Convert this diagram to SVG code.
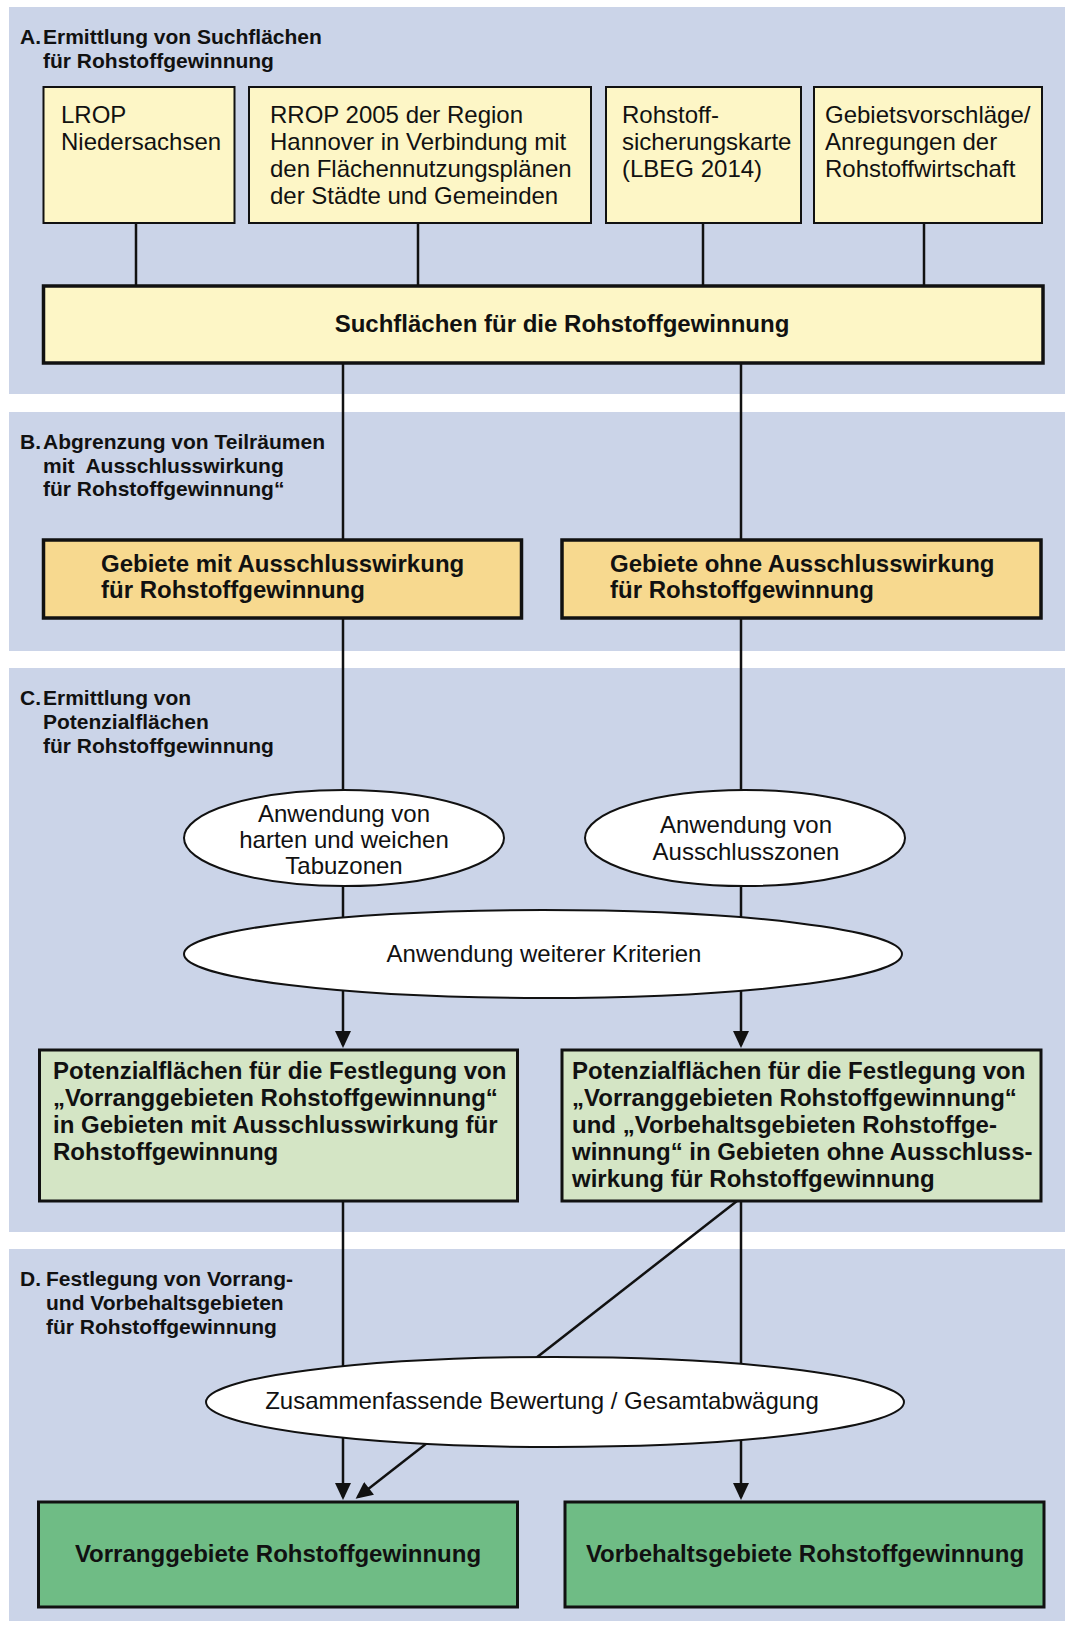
<svg xmlns="http://www.w3.org/2000/svg" width="1065" height="1625" viewBox="0 0 1065 1625">
<defs>
<style>
.panel{fill:#cbd4e8}
.t{font-family:"Liberation Sans",Arial,Helvetica,sans-serif;fill:#111}
.h{font-size:21px;font-weight:bold}
.r{font-size:24px}
.b{font-size:24px;font-weight:bold}
.src{fill:#fdf6c6;stroke:#111;stroke-width:2}
.main{fill:#fdf6c6;stroke:#111;stroke-width:3.5}
.sub{fill:#f7d98f;stroke:#111;stroke-width:3.5}
.pot{fill:#d4e5c5;stroke:#111;stroke-width:3}
.res{fill:#6fbc85;stroke:#111;stroke-width:3}
.ell{fill:#fff;stroke:#111;stroke-width:2}
.c{stroke:#111;stroke-width:2.5;fill:none}
</style>
<marker id="arr" markerUnits="userSpaceOnUse" markerWidth="18" markerHeight="16" viewBox="0 0 17 16" refX="14" refY="8" orient="auto">
<path d="M0,0 L17,8 L0,16 z" fill="#111"/>
</marker>
</defs>

<rect width="1065" height="1625" fill="#fff"/>

<!-- stage panels -->
<g id="panels">
<rect class="panel" x="9" y="7" width="1056" height="387"/>
<rect class="panel" x="9" y="412" width="1056" height="239"/>
<rect class="panel" x="9" y="668" width="1056" height="564"/>
<rect class="panel" x="9" y="1249" width="1056" height="372"/>
</g>

<!-- stage headings -->
<g id="headings" class="t h">
<text x="20" y="44">A.</text>
<text x="43" y="44">Ermittlung von Suchflächen</text>
<text x="43" y="68">für Rohstoffgewinnung</text>
<text x="20" y="449">B.</text>
<text x="43" y="449">Abgrenzung von Teilräumen</text>
<text x="43" y="473" xml:space="preserve">mit  Ausschlusswirkung</text>
<text x="43" y="496">für Rohstoffgewinnung“</text>
<text x="20" y="705">C.</text>
<text x="43" y="705">Ermittlung von</text>
<text x="43" y="729">Potenzialflächen</text>
<text x="43" y="753">für Rohstoffgewinnung</text>
<text x="20" y="1286">D.</text>
<text x="46" y="1286">Festlegung von Vorrang-</text>
<text x="46" y="1310">und Vorbehaltsgebieten</text>
<text x="46" y="1334">für Rohstoffgewinnung</text>
</g>

<!-- connectors -->
<g id="connectors" class="c">
<path d="M136,223 V286"/>
<path d="M418,223 V286"/>
<path d="M703,223 V286"/>
<path d="M924,223 V286"/>
<path d="M343,363 V540"/>
<path d="M741,363 V540"/>
<path d="M343,618 V1045" marker-end="url(#arr)"/>
<path d="M741,618 V1045" marker-end="url(#arr)"/>
<path d="M343,1201 V1497" marker-end="url(#arr)"/>
<path d="M741,1201 V1497" marker-end="url(#arr)"/>
<path d="M737,1201 L358,1497" marker-end="url(#arr)"/>
</g>

<!-- A: sources -->
<g id="lrop">
<rect class="src" x="43.5" y="87" width="191" height="136"/>
<text class="t r" x="61" y="123">LROP</text>
<text class="t r" x="61" y="150">Niedersachsen</text>
</g>
<g id="rrop">
<rect class="src" x="249" y="87" width="342" height="136"/>
<text class="t r" x="270" y="123">RROP 2005 der Region</text>
<text class="t r" x="270" y="150">Hannover in Verbindung mit</text>
<text class="t r" x="270" y="177">den Flächennutzungsplänen</text>
<text class="t r" x="270" y="204">der Städte und Gemeinden</text>
</g>
<g id="lbeg">
<rect class="src" x="606" y="87" width="195" height="136"/>
<text class="t r" x="622" y="123">Rohstoff-</text>
<text class="t r" x="622" y="150">sicherungskarte</text>
<text class="t r" x="622" y="177">(LBEG 2014)</text>
</g>
<g id="wirtschaft">
<rect class="src" x="814" y="87" width="228" height="136"/>
<text class="t r" x="825" y="123">Gebietsvorschläge/</text>
<text class="t r" x="825" y="150">Anregungen der</text>
<text class="t r" x="825" y="177">Rohstoffwirtschaft</text>
</g>
<g id="suchflaechen">
<rect class="main" x="43.5" y="286" width="999.5" height="77"/>
<text class="t b" x="562" y="332" text-anchor="middle">Suchflächen für die Rohstoffgewinnung</text>
</g>

<!-- B: sub-areas -->
<g id="mit-ausschluss">
<rect class="sub" x="43.5" y="540" width="478" height="78"/>
<text class="t b" x="101" y="572">Gebiete mit Ausschlusswirkung</text>
<text class="t b" x="101" y="598">für Rohstoffgewinnung</text>
</g>
<g id="ohne-ausschluss">
<rect class="sub" x="562" y="540" width="479" height="78"/>
<text class="t b" x="610" y="572">Gebiete ohne Ausschlusswirkung</text>
<text class="t b" x="610" y="598">für Rohstoffgewinnung</text>
</g>

<!-- C: criteria -->
<g id="tabuzonen">
<ellipse class="ell" cx="344" cy="838" rx="160" ry="48"/>
<text class="t r" x="344" y="822" text-anchor="middle">Anwendung von</text>
<text class="t r" x="344" y="848" text-anchor="middle">harten und weichen</text>
<text class="t r" x="344" y="874" text-anchor="middle">Tabuzonen</text>
</g>
<g id="ausschlusszonen">
<ellipse class="ell" cx="745" cy="838" rx="160" ry="48"/>
<text class="t r" x="746" y="833" text-anchor="middle">Anwendung von</text>
<text class="t r" x="746" y="860" text-anchor="middle">Ausschlusszonen</text>
</g>
<g id="weitere-kriterien">
<ellipse class="ell" cx="543" cy="954" rx="359" ry="44"/>
<text class="t r" x="544" y="962" text-anchor="middle">Anwendung weiterer Kriterien</text>
</g>
<g id="potenzial-mit">
<rect class="pot" x="39.5" y="1050" width="478" height="151"/>
<text class="t b" x="53" y="1079">Potenzialflächen für die Festlegung von</text>
<text class="t b" x="53" y="1106">„Vorranggebieten Rohstoffgewinnung“</text>
<text class="t b" x="53" y="1133">in Gebieten mit Ausschlusswirkung für</text>
<text class="t b" x="53" y="1160">Rohstoffgewinnung</text>
</g>
<g id="potenzial-ohne">
<rect class="pot" x="562" y="1050" width="479" height="151"/>
<text class="t b" x="572" y="1079">Potenzialflächen für die Festlegung von</text>
<text class="t b" x="572" y="1106">„Vorranggebieten Rohstoffgewinnung“</text>
<text class="t b" x="572" y="1133">und „Vorbehaltsgebieten Rohstoffge-</text>
<text class="t b" x="572" y="1160">winnung“ in Gebieten ohne Ausschluss-</text>
<text class="t b" x="572" y="1187">wirkung für Rohstoffgewinnung</text>
</g>

<!-- D: final designation -->
<g id="gesamtabwaegung">
<ellipse class="ell" cx="555" cy="1402" rx="349" ry="45"/>
<text class="t r" x="542" y="1409" text-anchor="middle">Zusammenfassende Bewertung / Gesamtabwägung</text>
</g>
<g id="vorranggebiete">
<rect class="res" x="38.5" y="1502" width="479" height="105"/>
<text class="t b" x="278" y="1562" text-anchor="middle">Vorranggebiete Rohstoffgewinnung</text>
</g>
<g id="vorbehaltsgebiete">
<rect class="res" x="565" y="1502" width="479" height="105"/>
<text class="t b" x="805" y="1562" text-anchor="middle">Vorbehaltsgebiete Rohstoffgewinnung</text>
</g>
</svg>
